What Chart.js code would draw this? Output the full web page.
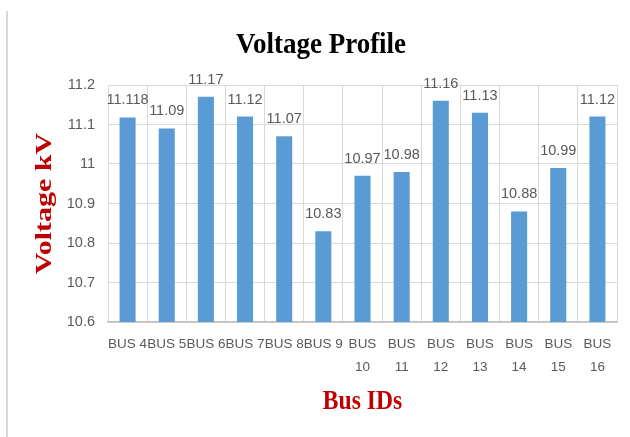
<!DOCTYPE html>
<html>
<head>
<meta charset="utf-8">
<script src="https://cdn.jsdelivr.net/npm/chart.js@4"></script>
<style>
  html, body { margin: 0; padding: 0; background: #ffffff; }
  canvas { display: block; }
</style>
</head>
<body>
<canvas id="grafico" width="630" height="437"></canvas>
<script>
// =========================
// DADOS
// =========================
const categorias = ["BUS 4", "BUS 5", "BUS 6", "BUS 7", "BUS 8", "BUS 9",
  ["BUS", "10"], ["BUS", "11"], ["BUS", "12"], ["BUS", "13"],
  ["BUS", "14"], ["BUS", "15"], ["BUS", "16"]];
const tensoes = [11.118, 11.09, 11.17, 11.12, 11.07, 10.83, 10.97, 10.98, 11.16, 11.13, 10.88, 10.99, 11.12];
const rotulosBarras = ["11.118", "11.09", "11.17", "11.12", "11.07", "10.83", "10.97", "10.98", "11.16", "11.13", "10.88", "10.99", "11.12"];
const rotulosY = ["10.6", "10.7", "10.8", "10.9", "11", "11.1", "11.2"];

const tituloGrafico = "Voltage Profile";
const tituloY = "Voltage kV";
const tituloX = "Bus IDs";

const CINZA_TEXTO = "#595959";
const CINZA_GRADE = "#d9d9d9";
const VERMELHO = "#c00000";

// =========================
// PLUGIN: títulos + rótulos
// =========================
const extras = {
  id: "extras",
  beforeDraw(chart) {
    const ctx = chart.ctx;
    ctx.save();
    ctx.fillStyle = CINZA_GRADE;
    ctx.fillRect(6, 11, 2, chart.height - 11);
    ctx.restore();
  },
  afterDatasetsDraw(chart) {
    const ctx = chart.ctx;
    const area = chart.chartArea;
    const meta = chart.getDatasetMeta(0);

    // rótulos de dados
    ctx.save();
    ctx.font = "14.5px 'Liberation Sans', Arial, sans-serif";
    ctx.fillStyle = CINZA_TEXTO;
    ctx.textAlign = "center";
    ctx.textBaseline = "alphabetic";
    meta.data.forEach((bar, i) => {
      ctx.fillText(rotulosBarras[i], bar.x, bar.y - 13);
    });
    ctx.restore();

    // título principal
    ctx.save();
    ctx.translate(321, 53);
    ctx.scale(0.9, 1);
    ctx.font = "bold 30px 'Liberation Serif', 'Times New Roman', serif";
    ctx.fillStyle = "#000000";
    ctx.textAlign = "center";
    ctx.textBaseline = "alphabetic";
    ctx.fillText(tituloGrafico, 0, 0);
    ctx.restore();

    // título eixo X
    ctx.save();
    ctx.translate((area.left + area.right) / 2, 409);
    ctx.scale(0.89, 1);
    ctx.font = "bold 26.5px 'Liberation Serif', 'Times New Roman', serif";
    ctx.fillStyle = VERMELHO;
    ctx.textAlign = "center";
    ctx.textBaseline = "alphabetic";
    ctx.fillText(tituloX, 0, 0);
    ctx.restore();

    // título eixo Y
    ctx.save();
    ctx.translate(51, (area.top + area.bottom) / 2);
    ctx.rotate(-Math.PI / 2);
    ctx.scale(1, 0.8);
    ctx.font = "bold 30px 'Liberation Serif', 'Times New Roman', serif";
    ctx.fillStyle = VERMELHO;
    ctx.textAlign = "center";
    ctx.textBaseline = "alphabetic";
    ctx.fillText(tituloY, 0, 0);
    ctx.restore();
  }
};

// =========================
// GRÁFICO
// =========================
new Chart(document.getElementById("grafico"), {
  type: "bar",
  data: {
    labels: categorias,
    datasets: [{
      label: "Voltage",
      data: tensoes,
      backgroundColor: "#5b9bd5",
      borderWidth: 0,
      barPercentage: 0.41,
      categoryPercentage: 1
    }]
  },
  options: {
    responsive: false,
    animation: false,
    layout: {
      padding: { left: 68, right: 13, top: 85, bottom: 0 }
    },
    plugins: {
      legend: { display: false },
      tooltip: { enabled: false }
    },
    scales: {
      x: {
        grid: { color: CINZA_GRADE, drawTicks: false, offset: true },
        border: { color: "#bfbfbf", width: 1.5 },
        ticks: {
          color: CINZA_TEXTO,
          font: { family: "'Liberation Sans', Arial, sans-serif", size: 13.5, lineHeight: 1.7 },
          padding: 11,
          autoSkip: false,
          maxRotation: 0,
          minRotation: 0
        },
        afterFit: s => { s.height = 115; }
      },
      y: {
        min: 10.6,
        max: 11.2,
        grid: { color: CINZA_GRADE, drawTicks: false },
        border: { display: false },
        ticks: {
          stepSize: 0.1,
          color: CINZA_TEXTO,
          font: { family: "'Liberation Sans', Arial, sans-serif", size: 14.5 },
          padding: 13,
          callback: (v, i) => rotulosY[i]
        },
        afterFit: s => { s.width = 40; }
      }
    }
  },
  plugins: [extras]
});
</script>
</body>
</html>
